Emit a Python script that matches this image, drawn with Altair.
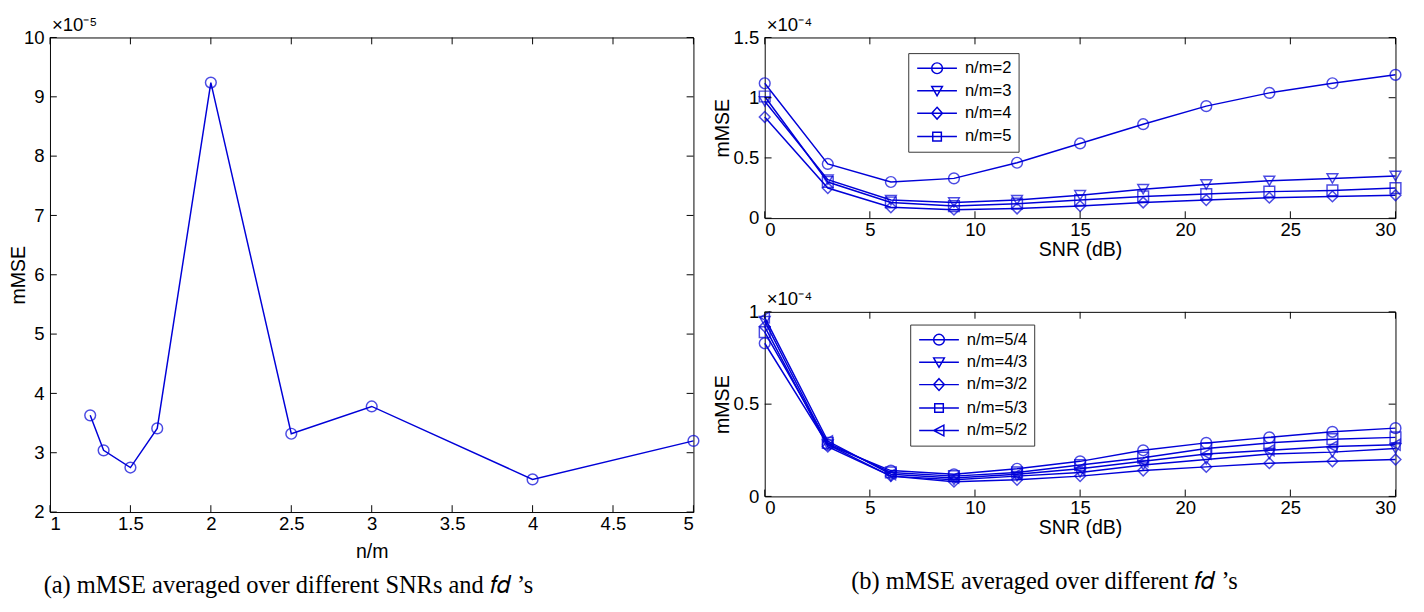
import altair as alt
import pandas as pd

BLUE = "#0000d8"
FONT = "Liberation Sans"
SERIF = "Liberation Serif"

# ---------------- panel (a) data ----------------
a_nm = [1.25, 4 / 3, 1.5, 5 / 3, 2.0, 2.5, 3.0, 4.0, 5.0]
a_mmse = [3.63, 3.04, 2.75, 3.41, 9.24, 3.32, 3.78, 2.55, 3.20]  # x 1e-5
a_xticks = [1, 1.5, 2, 2.5, 3, 3.5, 4, 4.5, 5]
a_yticks = [2, 3, 4, 5, 6, 7, 8, 9, 10]

# ---------------- panel (b) data ----------------
snr = [0, 3, 6, 9, 12, 15, 18, 21, 24, 27, 30]
b_xticks = [0, 5, 10, 15, 20, 25, 30]

top_names = ["n/m=2", "n/m=3", "n/m=4", "n/m=5"]
top_shapes = ["circle", "triangle-down", "diamond", "square"]
top_nm2 = [1.12, 0.45, 0.30, 0.33, 0.46, 0.62, 0.78, 0.93, 1.04, 1.12, 1.19]
top_nm3 = [0.97, 0.32, 0.15, 0.13, 0.15, 0.19, 0.24, 0.28, 0.31, 0.33, 0.35]
top_nm4 = [0.84, 0.25, 0.09, 0.07, 0.08, 0.10, 0.13, 0.15, 0.17, 0.18, 0.19]
top_nm5 = [1.01, 0.30, 0.13, 0.10, 0.12, 0.15, 0.18, 0.20, 0.22, 0.23, 0.25]
top_yticks = [0, 0.5, 1, 1.5]

bot_names = ["n/m=5/4", "n/m=4/3", "n/m=3/2", "n/m=5/3", "n/m=5/2"]
bot_shapes = ["circle", "triangle-down", "diamond", "square", "triangle-left"]
bot_54 = [0.83, 0.28, 0.14, 0.12, 0.15, 0.19, 0.25, 0.29, 0.32, 0.35, 0.37]
bot_43 = [0.95, 0.28, 0.11, 0.09, 0.11, 0.13, 0.17, 0.20, 0.23, 0.24, 0.26]
bot_32 = [0.92, 0.27, 0.11, 0.08, 0.09, 0.11, 0.14, 0.16, 0.18, 0.19, 0.20]
bot_53 = [0.89, 0.29, 0.13, 0.11, 0.13, 0.17, 0.21, 0.26, 0.29, 0.31, 0.32]
bot_52 = [0.97, 0.30, 0.12, 0.10, 0.12, 0.15, 0.19, 0.23, 0.25, 0.27, 0.28]
bot_yticks = [0, 0.5, 1]

# legend glyphs: marker with a line through it (MATLAB-style legend entries)
LINE = "M-3.7,0L3.7,0"
legend_glyph = {
    "circle": LINE + "M-1,0A1,1,0,1,1,1,0A1,1,0,1,1,-1,0Z",
    "triangle-down": LINE + "M-1,-0.8L1,-0.8L0,0.95Z",
    "diamond": LINE + "M0,-1.1L1,0L0,1.1L-1,0Z",
    "square": LINE + "M-0.8,-0.8L0.8,-0.8L0.8,0.8L-0.8,0.8Z",
    "triangle-left": LINE + "M0.9,-1L0.9,1L-1,0Z",
}


def long_df(names, series):
    rows = []
    for n, vals in zip(names, series):
        for s, v in zip(snr, vals):
            rows.append({"x": s, "y": v, "series": n})
    return pd.DataFrame(rows)


TICK = 7


def xaxis(values, title, tpad):
    return alt.Axis(values=values, title=title, format="~r", grid=False, ticks=False,
                    labelPadding=3, titlePadding=tpad, domain=False)


def yaxis(values, title, tx):
    return alt.Axis(values=values, title=title, format="~r", grid=False, ticks=False,
                    labelPadding=6, domain=False, titleX=tx)


def scales(xdom, ydom):
    return (alt.Scale(domain=xdom, nice=False, zero=False, padding=0),
            alt.Scale(domain=ydom, nice=False, zero=False, padding=0))


def inner_ticks(xticks, yticks, xs, ys, xa, ya, W, H):
    xd = pd.DataFrame({"x": xticks})
    yd = pd.DataFrame({"y": yticks})
    base_x = alt.Chart(xd).mark_rule(color="black", strokeWidth=1)
    base_y = alt.Chart(yd).mark_rule(color="black", strokeWidth=1)
    return [
        base_x.encode(x=alt.X("x:Q", scale=xs, axis=xa), y=alt.value(H), y2=alt.value(H - TICK)),
        base_x.encode(x=alt.X("x:Q", scale=xs, axis=xa), y=alt.value(0), y2=alt.value(TICK)),
        base_y.encode(y=alt.Y("y:Q", scale=ys, axis=ya), x=alt.value(0), x2=alt.value(TICK)),
        base_y.encode(y=alt.Y("y:Q", scale=ys, axis=ya), x=alt.value(W), x2=alt.value(W - TICK)),
    ]


def exp_title(txt):
    return alt.TitleParams(txt, anchor="start", frame="group", fontSize=19, font=FONT,
                           fontWeight="normal", offset=-6, dx=2, color="black")


# ---------------- panel (a) chart ----------------
AW, AH = 659, 486
a_df = pd.DataFrame({"x": a_nm, "y": a_mmse})
a_xs, a_ys = scales([1, 5], [2, 10])
a_xa = xaxis(a_xticks, "n/m", 9)
a_ya = yaxis(a_yticks, "mMSE", -22)
a_line = alt.Chart(a_df).mark_line(color=BLUE, strokeWidth=1.5).encode(
    x=alt.X("x:Q", scale=a_xs, axis=a_xa),
    y=alt.Y("y:Q", scale=a_ys, axis=a_ya),
)
a_pts = alt.Chart(a_df).mark_point(shape="circle", filled=False, color=BLUE, size=121,
                                   strokeWidth=1.5).encode(
    x=alt.X("x:Q", scale=a_xs, axis=a_xa),
    y=alt.Y("y:Q", scale=a_ys, axis=a_ya))
chart_a = alt.layer(
    a_line, a_pts, *inner_ticks(a_xticks, a_yticks, a_xs, a_ys, a_xa, a_ya, AW, AH)
).properties(width=AW, height=AH, title=exp_title("×10⁻⁵"))


# ---------------- panel (b) charts ----------------
def snr_chart(df, names, shapes, ydom, yticks, W, H, lx, ly):
    xs, ys = scales([0, 30], ydom)
    xa = xaxis(b_xticks, "SNR (dB)", 0)
    ya = yaxis(yticks, "mMSE", -33)
    line = alt.Chart(df).mark_line(color=BLUE, strokeWidth=1.5).encode(
        x=alt.X("x:Q", scale=xs, axis=xa),
        y=alt.Y("y:Q", scale=ys, axis=ya),
        detail="series:N",
    )
    pts = alt.Chart(df).mark_point(filled=False, color=BLUE, size=121, strokeWidth=1.5).encode(
        x=alt.X("x:Q", scale=xs, axis=xa),
        y=alt.Y("y:Q", scale=ys, axis=ya),
        shape=alt.Shape("series:N", scale=alt.Scale(domain=names, range=shapes), legend=None),
    )
    # invisible layer that only provides the MATLAB-style legend
    leg = alt.Chart(df).mark_point(filled=False, color=BLUE, size=121, opacity=0).encode(
        x=alt.X("x:Q", scale=xs, axis=xa),
        y=alt.Y("y:Q", scale=ys, axis=ya),
        shape=alt.Shape("series:N",
                        scale=alt.Scale(domain=names, range=[legend_glyph[s] for s in shapes]),
                        legend=alt.Legend(title=None, orient="none", legendX=lx, legendY=ly,
                                          strokeColor="#333333", fillColor="white", padding=7,
                                          symbolStrokeColor=BLUE, symbolStrokeWidth=1.5,
                                          symbolSize=121, symbolFillColor="transparent",
                                          symbolOpacity=1,
                                          labelFont=FONT, labelFontSize=17, labelColor="black",
                                          rowPadding=5, symbolOffset=14, labelOffset=20)),
    )
    return alt.layer(
        line, pts, leg, *inner_ticks(b_xticks, yticks, xs, ys, xa, ya, W, H)
    ).resolve_scale(shape="independent").properties(width=W, height=H, title=exp_title("×10⁻⁴"))


BW = 646
top_df = long_df(top_names, [top_nm2, top_nm3, top_nm4, top_nm5])
bot_df = long_df(bot_names, [bot_54, bot_43, bot_32, bot_53, bot_52])
chart_top = snr_chart(top_df, top_names, top_shapes, [0, 1.5], top_yticks, BW, 185, 147, 16)
chart_bot = snr_chart(bot_df, bot_names, bot_shapes, [0, 1], bot_yticks, BW, 189, 149, 13)

cap_style = dict(orient="bottom", font=SERIF, fontSize=25, fontWeight="normal", color="black")
left = alt.vconcat(chart_a).properties(
    title=alt.TitleParams("(a) mMSE averaged over different SNRs and  𝑓𝑑 ’s", anchor="start",
                          dx=36, offset=11, **cap_style))
right = alt.vconcat(chart_top, chart_bot, spacing=30).resolve_scale(
    shape="independent").resolve_legend(shape="independent").properties(
    title=alt.TitleParams("(b) mMSE averaged over different  𝑓𝑑 ’s", anchor="start",
                          dx=142, offset=32, **cap_style))

chart = alt.hconcat(left, right, spacing=10).resolve_scale(
    shape="independent").resolve_legend(shape="independent").properties(
    padding={"left": 0, "top": 0, "right": 0, "bottom": 0}
).configure_view(
    stroke="black", strokeWidth=1
).configure_axis(
    labelFont=FONT, labelFontSize=19, labelColor="black",
    titleFont=FONT, titleFontSize=20, titleFontWeight="normal", titleColor="black",
)

chart.save("out.html", embed_options={"renderer": "svg", "actions": False})
